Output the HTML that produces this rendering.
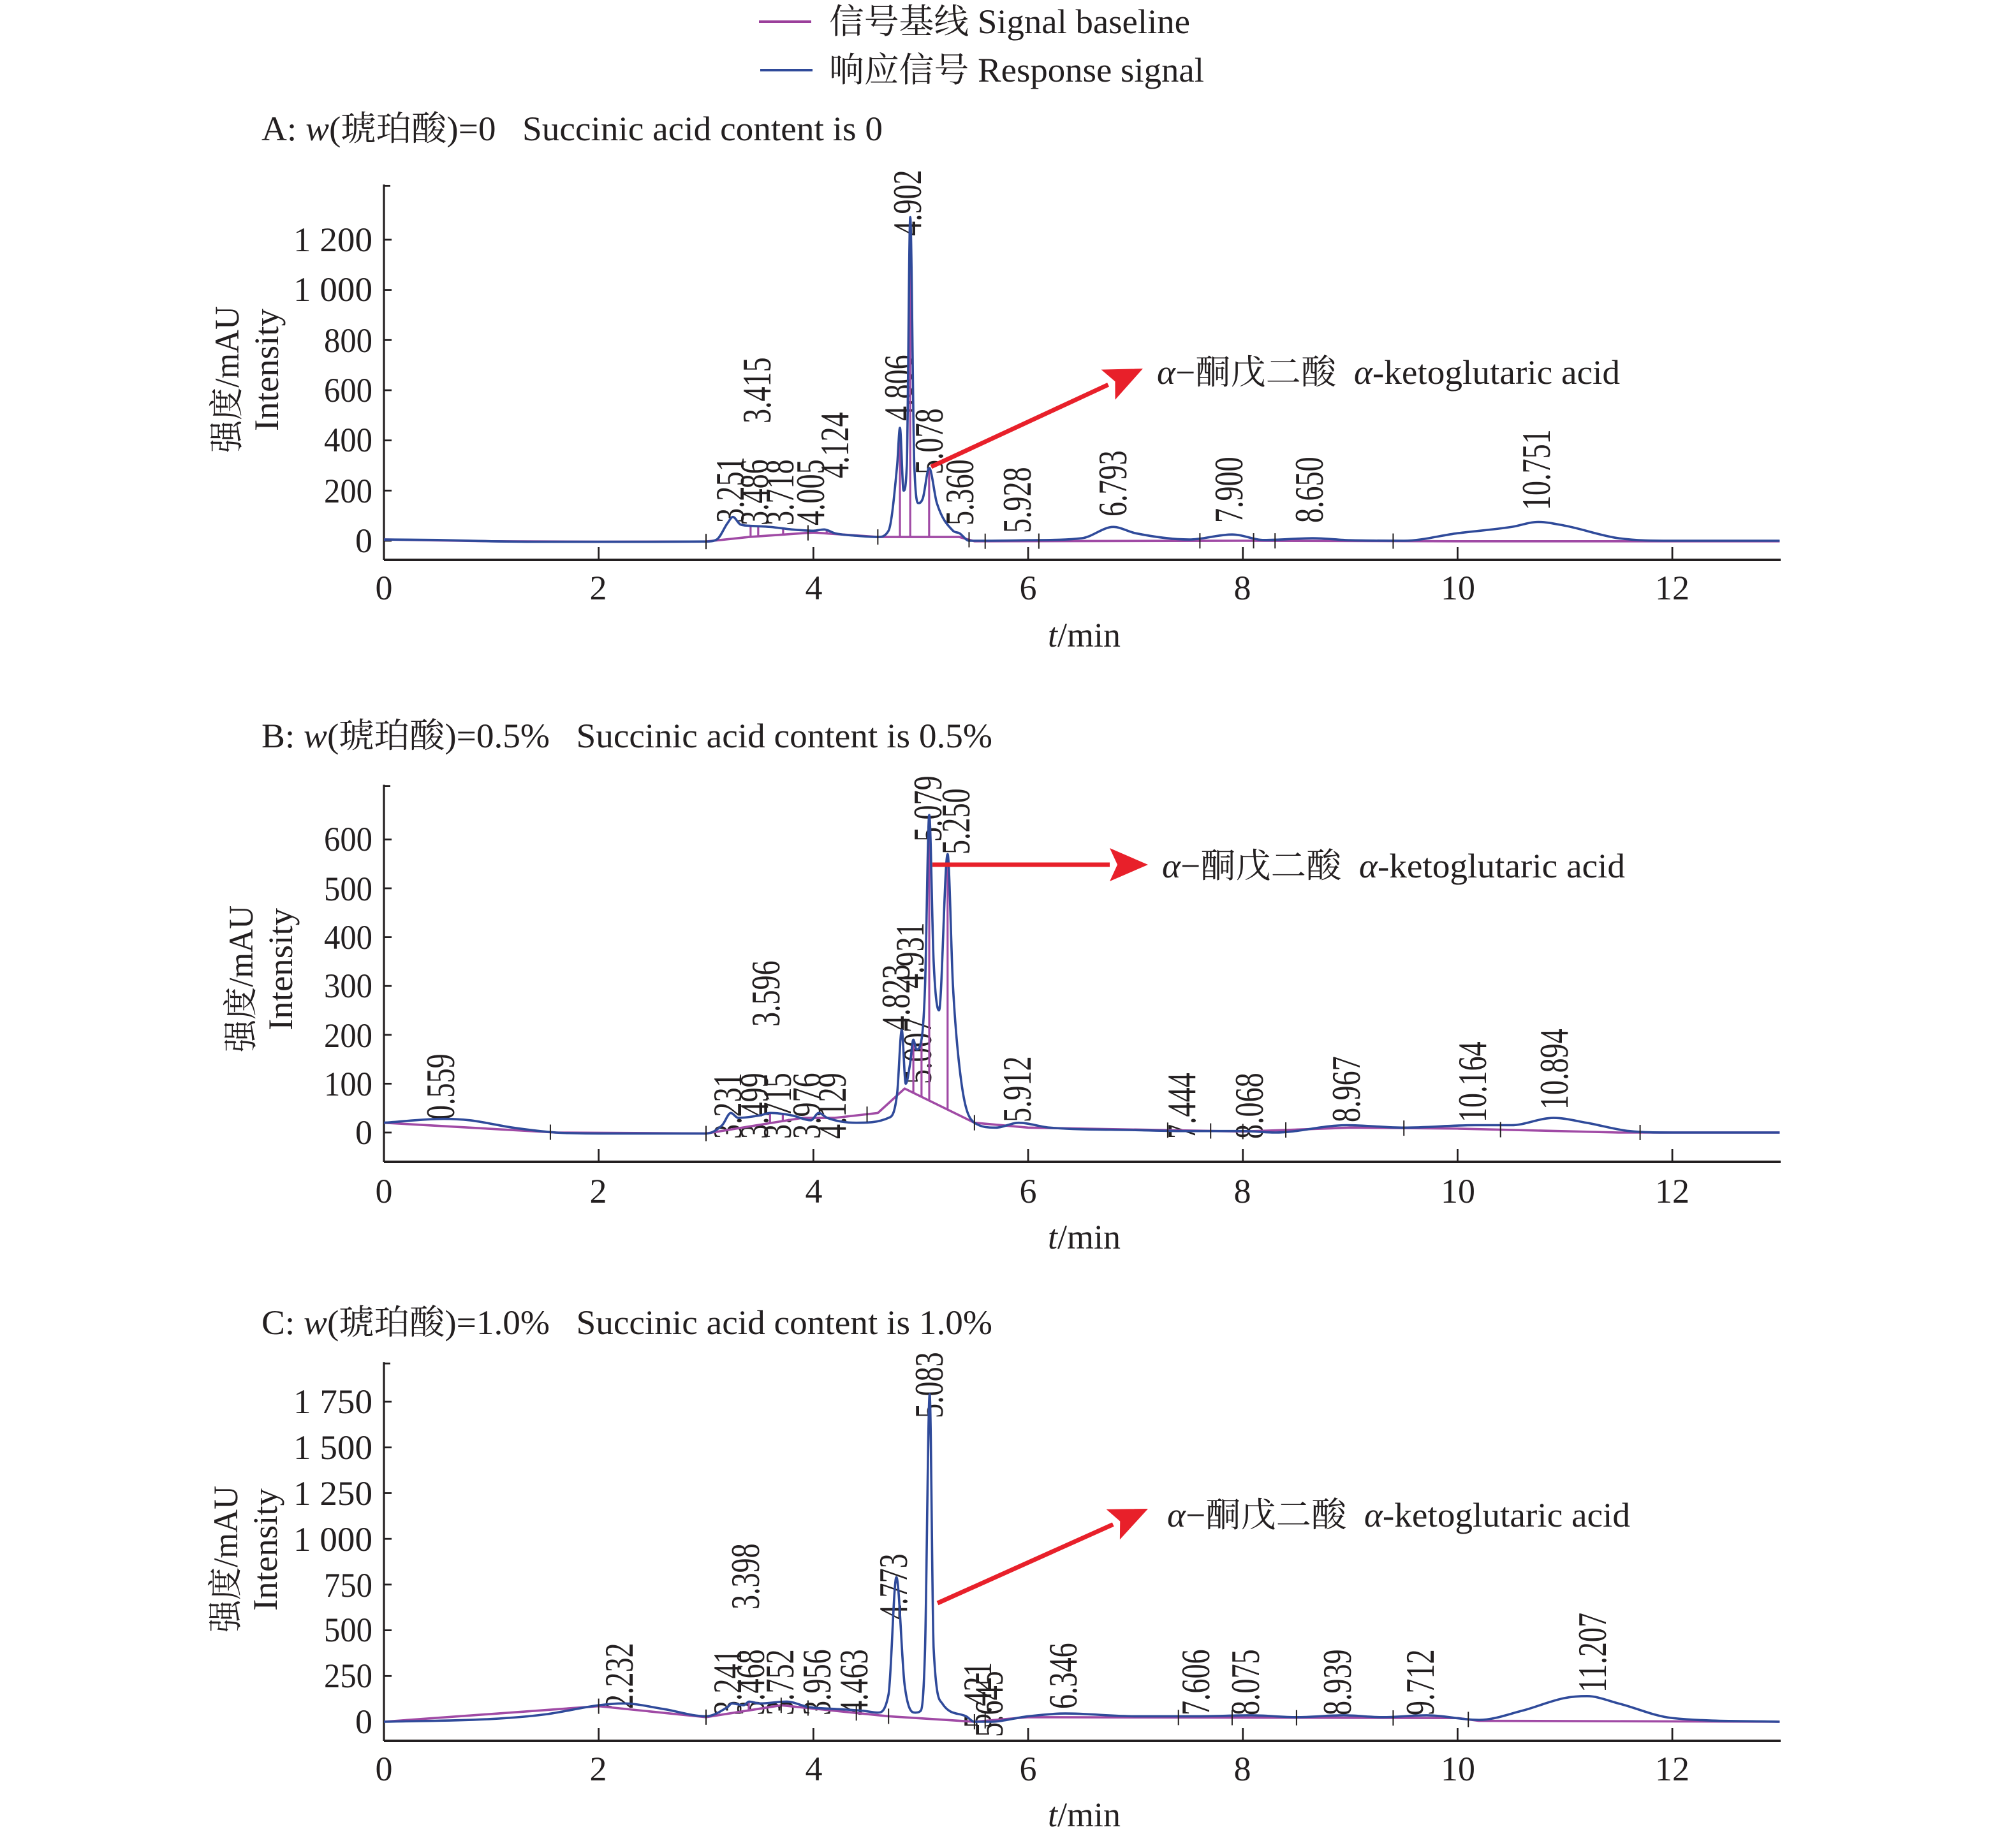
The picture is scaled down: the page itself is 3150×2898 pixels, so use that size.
<!DOCTYPE html>
<html><head><meta charset="utf-8"><style>
html,body{margin:0;padding:0;background:#fff;}
svg{display:block;}
text{font-family:"Liberation Serif","Noto Serif CJK SC",serif;fill:#231f20;white-space:pre;}
</style></head><body>
<svg id="s" width="3150" height="2898" viewBox="0 0 1575 1449" xmlns="http://www.w3.org/2000/svg">
<rect width="1575" height="1449" fill="#fff"/>
<line x1="595" y1="17" x2="636" y2="17" stroke="#9b3f9b" stroke-width="2"/>
<line x1="596" y1="55" x2="637" y2="55" stroke="#2f4a9a" stroke-width="2"/>
<text x="650" y="26" font-size="27" textLength="283" lengthAdjust="spacingAndGlyphs">信号基线 Signal baseline</text>
<text x="650" y="64" font-size="27" textLength="294" lengthAdjust="spacingAndGlyphs">响应信号 Response signal</text>
<text x="205" y="110" font-size="27" textLength="487" lengthAdjust="spacingAndGlyphs">A: <tspan font-style="italic">w</tspan>(琥珀酸)=0   Succinic acid content is 0</text>
<text x="205" y="586" font-size="27" textLength="573" lengthAdjust="spacingAndGlyphs">B: <tspan font-style="italic">w</tspan>(琥珀酸)=0.5%   Succinic acid content is 0.5%</text>
<text x="205" y="1046" font-size="27" textLength="573" lengthAdjust="spacingAndGlyphs">C: <tspan font-style="italic">w</tspan>(琥珀酸)=1.0%   Succinic acid content is 1.0%</text>
<g font-size="27">
<text transform="translate(187,355) rotate(-90)" textLength="115" lengthAdjust="spacingAndGlyphs">强度/mAU</text>
<text transform="translate(218,338) rotate(-90)" textLength="96" lengthAdjust="spacingAndGlyphs">Intensity</text>
<text transform="translate(198,825) rotate(-90)" textLength="115" lengthAdjust="spacingAndGlyphs">强度/mAU</text>
<text transform="translate(229,808) rotate(-90)" textLength="96" lengthAdjust="spacingAndGlyphs">Intensity</text>
<text transform="translate(186,1280) rotate(-90)" textLength="115" lengthAdjust="spacingAndGlyphs">强度/mAU</text>
<text transform="translate(217,1263) rotate(-90)" textLength="96" lengthAdjust="spacingAndGlyphs">Intensity</text>
</g>
<g font-size="27" text-anchor="middle">
<text x="850" y="507"><tspan font-style="italic">t</tspan>/min</text>
<text x="850" y="979"><tspan font-style="italic">t</tspan>/min</text>
<text x="850" y="1432"><tspan font-style="italic">t</tspan>/min</text>
</g>
<g font-size="27" text-anchor="end">
<text x="292" y="433">0</text><text x="292" y="394" textLength="38" lengthAdjust="spacingAndGlyphs">200</text><text x="292" y="354" textLength="38" lengthAdjust="spacingAndGlyphs">400</text><text x="292" y="315" textLength="38" lengthAdjust="spacingAndGlyphs">600</text><text x="292" y="276" textLength="38" lengthAdjust="spacingAndGlyphs">800</text><text x="292" y="236" textLength="62" lengthAdjust="spacingAndGlyphs">1 000</text><text x="292" y="197" textLength="62" lengthAdjust="spacingAndGlyphs">1 200</text>
<text x="292" y="897">0</text><text x="292" y="859" textLength="38" lengthAdjust="spacingAndGlyphs">100</text><text x="292" y="821" textLength="38" lengthAdjust="spacingAndGlyphs">200</text><text x="292" y="782" textLength="38" lengthAdjust="spacingAndGlyphs">300</text><text x="292" y="744" textLength="38" lengthAdjust="spacingAndGlyphs">400</text><text x="292" y="706" textLength="38" lengthAdjust="spacingAndGlyphs">500</text><text x="292" y="667" textLength="38" lengthAdjust="spacingAndGlyphs">600</text>
<text x="292" y="1359">0</text><text x="292" y="1323" textLength="38" lengthAdjust="spacingAndGlyphs">250</text><text x="292" y="1287" textLength="38" lengthAdjust="spacingAndGlyphs">500</text><text x="292" y="1252" textLength="38" lengthAdjust="spacingAndGlyphs">750</text><text x="292" y="1216" textLength="62" lengthAdjust="spacingAndGlyphs">1 000</text><text x="292" y="1180" textLength="62" lengthAdjust="spacingAndGlyphs">1 250</text><text x="292" y="1144" textLength="62" lengthAdjust="spacingAndGlyphs">1 500</text><text x="292" y="1108" textLength="62" lengthAdjust="spacingAndGlyphs">1 750</text>
</g>
<g font-size="27" text-anchor="middle">
<text x="301" y="470">0</text><text x="469" y="470">2</text><text x="638" y="470">4</text><text x="806" y="470">6</text><text x="974" y="470">8</text><text x="1143" y="470">10</text><text x="1311" y="470">12</text>
<text x="301" y="943">0</text><text x="469" y="943">2</text><text x="638" y="943">4</text><text x="806" y="943">6</text><text x="974" y="943">8</text><text x="1143" y="943">10</text><text x="1311" y="943">12</text>
<text x="301" y="1396">0</text><text x="469" y="1396">2</text><text x="638" y="1396">4</text><text x="806" y="1396">6</text><text x="974" y="1396">8</text><text x="1143" y="1396">10</text><text x="1311" y="1396">12</text>
</g>
<g font-size="27">
<text x="907" y="301" textLength="363" lengthAdjust="spacingAndGlyphs"><tspan font-style="italic">α</tspan>−酮戊二酸  <tspan font-style="italic">α</tspan>-ketoglutaric acid</text>
<text x="911" y="688" textLength="363" lengthAdjust="spacingAndGlyphs"><tspan font-style="italic">α</tspan>−酮戊二酸  <tspan font-style="italic">α</tspan>-ketoglutaric acid</text>
<text x="915" y="1197" textLength="363" lengthAdjust="spacingAndGlyphs"><tspan font-style="italic">α</tspan>−酮戊二酸  <tspan font-style="italic">α</tspan>-ketoglutaric acid</text>
</g>
<g font-size="32" id="pl">
<text transform="translate(583,410) rotate(-90) scale(0.72,1)">3.251</text>
<text transform="translate(604,332) rotate(-90) scale(0.72,1)">3.415</text>
<text transform="translate(602,412) rotate(-90) scale(0.72,1)">3.486</text>
<text transform="translate(622,412) rotate(-90) scale(0.72,1)">3.718</text>
<text transform="translate(646,412) rotate(-90) scale(0.72,1)">4.005</text>
<text transform="translate(665,375) rotate(-90) scale(0.72,1)">4.124</text>
<text transform="translate(715,330) rotate(-90) scale(0.72,1)">4.806</text>
<text transform="translate(722,185) rotate(-90) scale(0.72,1)">4.902</text>
<text transform="translate(739,372) rotate(-90) scale(0.72,1)">5.078</text>
<text transform="translate(763,412) rotate(-90) scale(0.72,1)">5.360</text>
<text transform="translate(808,418) rotate(-90) scale(0.72,1)">5.928</text>
<text transform="translate(883,405) rotate(-90) scale(0.72,1)">6.793</text>
<text transform="translate(974,410) rotate(-90) scale(0.72,1)">7.900</text>
<text transform="translate(1037,410) rotate(-90) scale(0.72,1)">8.650</text>
<text transform="translate(1215,400) rotate(-90) scale(0.72,1)">10.751</text>
<text transform="translate(356,878) rotate(-90) scale(0.72,1)">0.559</text>
<text transform="translate(581,893) rotate(-90) scale(0.72,1)">3.231</text>
<text transform="translate(602,893) rotate(-90) scale(0.72,1)">3.499</text>
<text transform="translate(611,805) rotate(-90) scale(0.72,1)">3.596</text>
<text transform="translate(620,893) rotate(-90) scale(0.72,1)">3.715</text>
<text transform="translate(643,893) rotate(-90) scale(0.72,1)">3.976</text>
<text transform="translate(663,893) rotate(-90) scale(0.72,1)">4.129</text>
<text transform="translate(713,808) rotate(-90) scale(0.72,1)">4.823</text>
<text transform="translate(724,775) rotate(-90) scale(0.72,1)">4.931</text>
<text transform="translate(730,850) rotate(-90) scale(0.72,1)">5.007</text>
<text transform="translate(738,660) rotate(-90) scale(0.72,1)">5.079</text>
<text transform="translate(760,670) rotate(-90) scale(0.72,1)">5.250</text>
<text transform="translate(808,880) rotate(-90) scale(0.72,1)">5.912</text>
<text transform="translate(937,893) rotate(-90) scale(0.72,1)">7.444</text>
<text transform="translate(990,893) rotate(-90) scale(0.72,1)">8.068</text>
<text transform="translate(1066,880) rotate(-90) scale(0.72,1)">8.967</text>
<text transform="translate(1165,880) rotate(-90) scale(0.72,1)">10.164</text>
<text transform="translate(1229,870) rotate(-90) scale(0.72,1)">10.894</text>
<text transform="translate(496,1340) rotate(-90) scale(0.72,1)">2.232</text>
<text transform="translate(581,1345) rotate(-90) scale(0.72,1)">3.241</text>
<text transform="translate(595,1262) rotate(-90) scale(0.72,1)">3.398</text>
<text transform="translate(599,1345) rotate(-90) scale(0.72,1)">3.468</text>
<text transform="translate(622,1345) rotate(-90) scale(0.72,1)">3.752</text>
<text transform="translate(651,1345) rotate(-90) scale(0.72,1)">3.956</text>
<text transform="translate(680,1345) rotate(-90) scale(0.72,1)">4.463</text>
<text transform="translate(711,1270) rotate(-90) scale(0.72,1)">4.773</text>
<text transform="translate(739,1112) rotate(-90) scale(0.72,1)">5.083</text>
<text transform="translate(777,1355) rotate(-90) scale(0.72,1)">5.421</text>
<text transform="translate(786,1362) rotate(-90) scale(0.72,1)">5.645</text>
<text transform="translate(844,1340) rotate(-90) scale(0.72,1)">6.346</text>
<text transform="translate(948,1345) rotate(-90) scale(0.72,1)">7.606</text>
<text transform="translate(987,1345) rotate(-90) scale(0.72,1)">8.075</text>
<text transform="translate(1059,1345) rotate(-90) scale(0.72,1)">8.939</text>
<text transform="translate(1124,1345) rotate(-90) scale(0.72,1)">9.712</text>
<text transform="translate(1259,1327) rotate(-90) scale(0.72,1)">11.207</text>
</g>
<g id="dyn"></g>
</svg>
<script>
var NS="http://www.w3.org/2000/svg",g=document.getElementById("dyn");
function X(t){return 301+84.17*t;}
function el(n,a){var e=document.createElementNS(NS,n);for(var k in a)e.setAttribute(k,a[k]);g.appendChild(e);return e;}
function mono(pts,Y){
 var xs=[],ys=[],n=pts.length/2,i;
 for(i=0;i<n;i++){xs.push(X(pts[2*i]));ys.push(Y(pts[2*i+1]));}
 var d=[],m=[];
 for(i=0;i<n-1;i++)d.push((ys[i+1]-ys[i])/(xs[i+1]-xs[i]));
 m[0]=d[0];m[n-1]=d[n-2];
 for(i=1;i<n-1;i++){m[i]=(d[i-1]*d[i]<=0)?0:(d[i-1]+d[i])/2;}
 for(i=0;i<n-1;i++){if(d[i]==0){m[i]=0;m[i+1]=0;continue;}var a=m[i]/d[i],b=m[i+1]/d[i],s=a*a+b*b;if(s>9){var t=3/Math.sqrt(s);m[i]=t*a*d[i];m[i+1]=t*b*d[i];}}
 var p="M"+xs[0].toFixed(2)+","+ys[0].toFixed(2);
 for(i=0;i<n-1;i++){var h=(xs[i+1]-xs[i])/3;p+="C"+(xs[i]+h).toFixed(2)+","+(ys[i]+m[i]*h).toFixed(2)+" "+(xs[i+1]-h).toFixed(2)+","+(ys[i+1]-m[i+1]*h).toFixed(2)+" "+xs[i+1].toFixed(2)+","+ys[i+1].toFixed(2);}
 return p;}
function path(pts,Y,col,w,smooth){var d="";if(smooth)d=mono(pts,Y);else for(var i=0;i<pts.length;i+=2)d+=(i?"L":"M")+X(pts[i]).toFixed(2)+","+Y(pts[i+1]).toFixed(2);el("path",{d:d,fill:"none",stroke:col,"stroke-width":w,"stroke-linejoin":"round"});}
function interp(pts,t){for(var i=0;i<pts.length-2;i+=2){if(t>=pts[i]&&t<=pts[i+2]){var f=(t-pts[i])/(pts[i+2]-pts[i]);return pts[i+1]+f*(pts[i+3]-pts[i+1]);}}return 0;}
function axes(yb,Y,ticks,vtop){
 el("line",{x1:301,y1:yb,x2:1396,y2:yb,stroke:"#231f20","stroke-width":2});
 el("line",{x1:301,y1:yb,x2:301,y2:Y(vtop),stroke:"#231f20","stroke-width":1.6});
 for(var t=0;t<=12;t+=2)el("line",{x1:X(t),y1:yb,x2:X(t),y2:yb-10,stroke:"#231f20","stroke-width":1.4});
 ticks.forEach(function(v){el("line",{x1:301,y1:Y(v),x2:307,y2:Y(v),stroke:"#231f20","stroke-width":1.4});});
 el("line",{x1:301,y1:Y(vtop)+1,x2:306,y2:Y(vtop)+1,stroke:"#231f20","stroke-width":1.4});
}
function panel(yb,Y,ticks,vtop,cur,base,verts,marks){
 axes(yb,Y,ticks,vtop);
 path(base,Y,"#a04aa5",1.8,false);
 verts.forEach(function(t){el("line",{x1:X(t),y1:Y(interp(base,t)),x2:X(t),y2:Y(interp(cur,t)),stroke:"#a04aa5","stroke-width":1.6});});
 path(cur,Y,"#2f4a9a",1.8,true);
 marks.forEach(function(t){var y=Y(interp(base,t));el("line",{x1:X(t),y1:y-6,x2:X(t),y2:y+6,stroke:"#231f20","stroke-width":1});});
}
var YA=function(v){return 424-0.1967*v;};
var cA=[0,5,0.5,3,1,-2,1.5,-4,2.5,-4,3.0,-3,3.1,5,3.2,70,3.25,95,3.32,65,3.4,60,3.6,55,3.8,45,4.0,40,4.1,45,4.2,30,4.4,20,4.6,15,4.7,40,4.78,300,4.806,450,4.84,200,4.87,300,4.902,1290,4.94,300,4.98,150,5.02,170,5.078,290,5.15,150,5.3,40,5.36,30,5.45,0,5.6,0,6.0,2,6.5,10,6.793,55,7.0,30,7.5,5,7.9,25,8.2,3,8.65,10,9.0,2,9.5,0,10.0,30,10.5,55,10.751,75,11.0,60,11.5,10,12,0,13,0];
var bA=[0,5,1,-2,2,-4,3.0,-3,3.4,15,4.0,33,4.6,15,5.36,15,5.5,-2,8,0,10,-2,13,-2];
panel(439,YA,[0,200,400,600,800,1000,1200],1420,cA,bA,[3.415,3.486,3.718,4.124,4.806,4.902,5.078],[3.0,3.95,4.6,5.45,5.6,6.1,7.6,8.1,8.3,9.4]);
var YB=function(v){return 888-0.383*v;};
var cB=[0,20,0.559,28,0.8,25,1.2,10,1.6,0,2.0,-2,3.0,-2,3.15,15,3.231,40,3.3,30,3.5,35,3.6,40,3.8,35,3.976,25,4.05,40,4.129,30,4.4,20,4.7,30,4.78,80,4.823,210,4.86,100,4.9,140,4.931,190,4.96,170,5.007,190,5.04,300,5.079,650,5.12,350,5.17,250,5.25,570,5.3,300,5.38,100,5.5,20,5.7,10,5.912,20,6.2,10,7,5,7.444,3,8,3,8.3,0,8.967,15,9.5,10,10.164,15,10.5,15,10.894,30,11.2,20,11.6,3,12,0,13,0];
var bB=[0,20,1.6,0,3.0,-2,3.9,30,4.2,30,4.6,40,4.85,90,5.5,20,6,10,8,2,9,10,10,8,11.5,0,13,0];
panel(911,YB,[0,100,200,300,400,500,600],712,cB,bB,[3.596,3.715,4.931,5.007,5.079,5.25],[1.55,3.0,4.5,5.5,7.3,7.7,8.0,8.4,9.5,10.4,11.7]);
var YC=function(v){return 1350-0.1434*v;};
var cC=[0,0,1,15,1.5,40,2.0,90,2.232,100,2.6,70,3.0,30,3.2,80,3.241,100,3.35,90,3.4,110,3.5,100,3.752,110,3.956,80,4.2,70,4.463,60,4.6,50,4.7,150,4.773,790,4.85,200,4.95,50,5.0,60,5.04,400,5.083,1790,5.12,400,5.2,100,5.421,30,5.5,0,5.645,0,6.0,30,6.346,45,7,30,7.606,30,8.075,35,8.5,25,8.939,35,9.3,25,9.712,35,10.2,10,10.6,60,11.0,130,11.207,140,11.5,100,12,20,13,0];
var bC=[0,0,2,85,3,25,3.7,90,4.2,60,4.7,30,5.5,0,6,25,10,20,10.2,5,13,0];
panel(1365,YC,[0,250,500,750,1000,1250,1500,1750],1966,cC,bC,[3.398],[2.0,3.0,3.7,3.95,4.4,4.7,5.5,5.6,7.4,7.9,8.5,9.4,10.1]);
function arrow(x1,y1,x2,y2){var a=Math.atan2(y2-y1,x2-x1),L=30,W=13;var bx=x2-L*Math.cos(a),by=y2-L*Math.sin(a);
 el("line",{x1:x1,y1:y1,x2:bx,y2:by,stroke:"#e8202a","stroke-width":3.5});
 var px=-Math.sin(a),py=Math.cos(a);
 el("polygon",{points:x2+","+y2+" "+(bx+W*px)+","+(by+W*py)+" "+(bx+6*Math.cos(a))+","+(by+6*Math.sin(a))+" "+(bx-W*px)+","+(by-W*py),fill:"#e8202a"});}
arrow(730,366,896,289);
arrow(731,678,900,678);
arrow(735,1257,900,1183);
</script>
</body></html>
